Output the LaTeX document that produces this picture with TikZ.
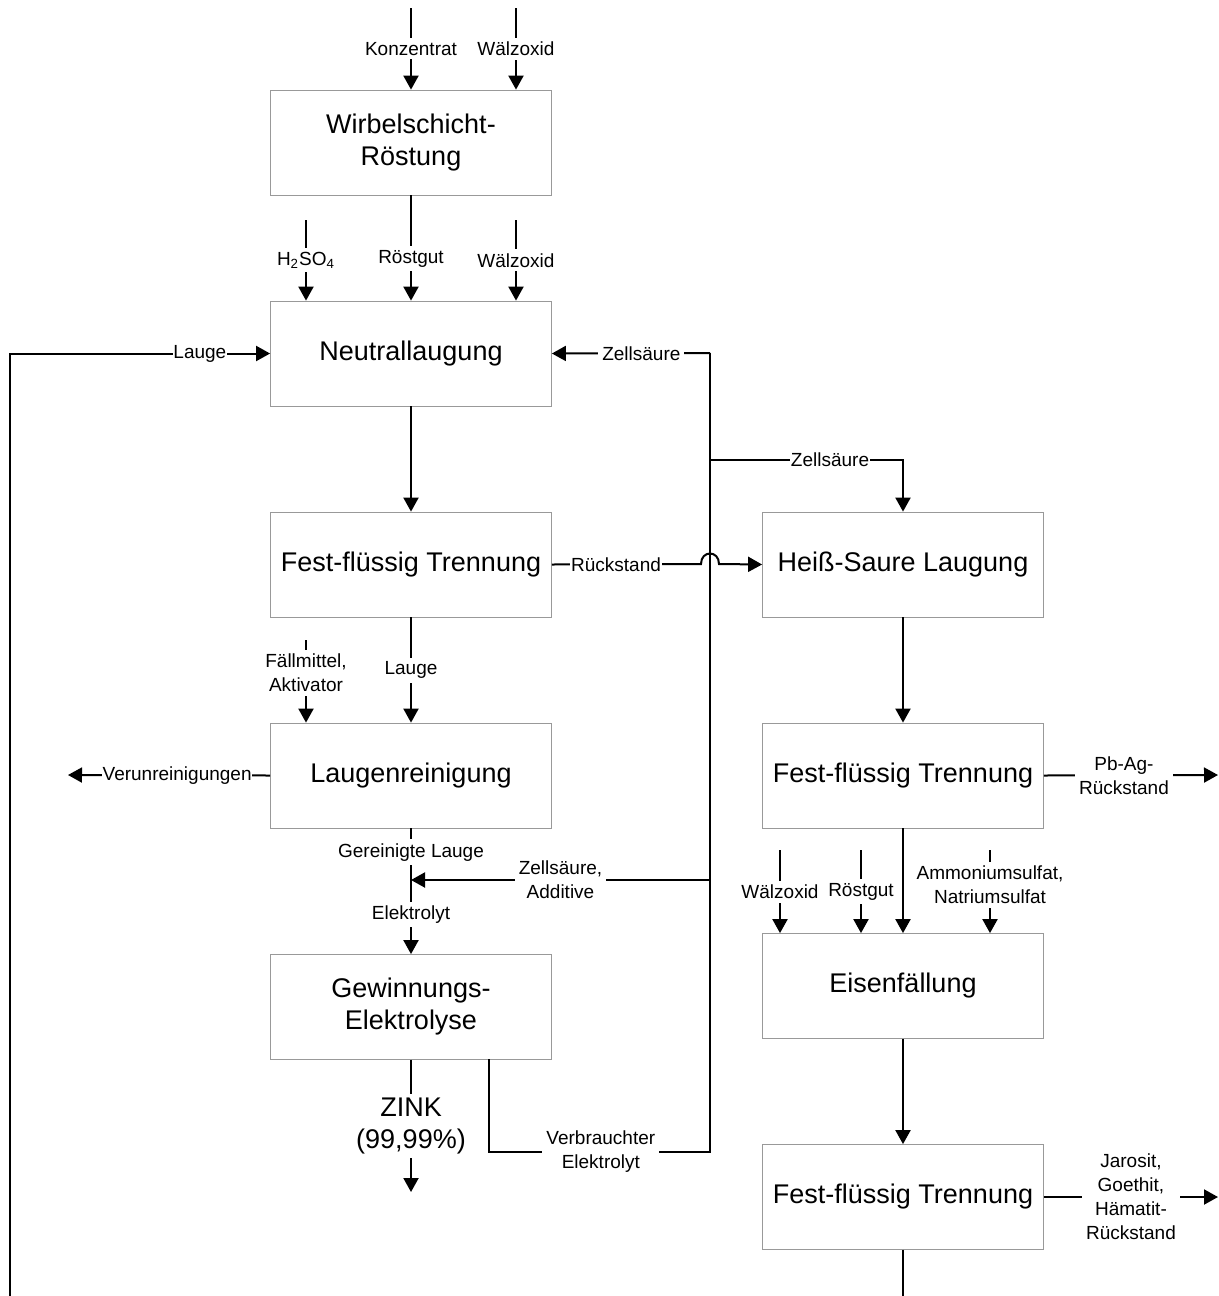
\documentclass[tikz,border=0pt]{standalone}
\usepackage{fontspec}
\setmainfont{Liberation Sans}
\usetikzlibrary{arrows.meta, positioning}

\begin{document}
\begin{tikzpicture}[x=0.5pt, y=-0.5pt,
  box/.style={draw=gray!80, fill=white, minimum width=140.5pt, minimum height=52.5pt, inner sep=2pt, align=center, font=\fontsize{13.5}{16}\selectfont},
  arrow/.style={-{Triangle[length=7pt,width=7.5pt]}, line width=1pt},
  line/.style={line width=1pt},
  lab/.style={font=\fontsize{9.5}{12}\selectfont, fill=white, inner sep=2pt, align=center},
  labt/.style={lab, inner sep=0.4pt},
  big/.style={lab, font=\fontsize{13.5}{16}\selectfont}
]
  \useasboundingbox (0,0) rectangle (1219,1296);

  % process boxes
  \node[box] (roest) at (411,142.5) {Wirbelschicht-\\Röstung};
  \node[box] (neutral) at (411,353.5) {Neutrallaugung};
  \node[box] (trenn1) at (411,564.5) {Fest-flüssig Trennung};
  \node[box] (reinig) at (411,775.5) {Laugenreinigung};
  \node[box] (elyse) at (411,1007) {Gewinnungs-\\Elektrolyse};
  \node[box] (heiss) at (903,564.5) {Heiß-Saure Laugung};
  \node[box] (trenn2) at (903,775.5) {Fest-flüssig Trennung};
  \node[box] (eisen) at (903,986) {Eisenfällung};
  \node[box] (trenn3) at (903,1197) {Fest-flüssig Trennung};

  % free ends
  \coordinate (kIn) at (411,8);
  \coordinate (w1In) at (516,8);
  \coordinate (hIn) at (306,220);
  \coordinate (w2In) at (516,220);
  \coordinate (lLoop) at (10,1296);
  \coordinate (eOut) at (489,1059);
  \coordinate (sBot) at (710,1152);
  \coordinate (sTop) at (710,353);
  \coordinate (sMid) at (710,460);
  \coordinate (sAdd) at (710,880);
  \coordinate (jAdd) at (411,880);
  \coordinate (hopL) at (701,564);
  \coordinate (hopR) at (719,564);
  \coordinate (fIn) at (306,640);
  \coordinate (vOut) at (68,775);
  \coordinate (zOut) at (411,1192);
  \coordinate (pbOut) at (1218,775);
  \coordinate (w3In) at (780,850);
  \coordinate (rIn) at (861,850);
  \coordinate (aIn) at (990,850);
  \coordinate (jOut) at (1218,1197);
  \coordinate (t3Out) at (903,1296);

  % roasting
  \draw[arrow] (kIn) -- node[lab] {Konzentrat} (roest.north);
  \draw[arrow] (w1In) -- node[lab] {Wälzoxid} (w1In |- roest.north);
  \draw[arrow] (hIn) -- node[lab] {H\textsubscript{2}SO\textsubscript{4}} (hIn |- neutral.north);
  \draw[arrow] (roest) -- node[lab, pos=0.6] {Röstgut} (neutral);
  \draw[arrow] (w2In) -- node[lab] {Wälzoxid} (w2In |- neutral.north);

  % loops
  \draw[arrow] (lLoop) |- node[labt, pos=0.865] {Lauge} (neutral.west);
  \draw[line] (eOut) |- node[lab, pos=0.753] {Verbrauchter\\Elektrolyt} (sBot) -- (sTop);
  \draw[arrow] (sTop) -- node[lab, pos=0.434] {Zellsäure} (neutral.east);
  \draw[arrow] (sMid) -| node[labt, pos=0.311] {Zellsäure} (heiss.north);
  \draw[arrow] (sAdd) -- node[lab] {Zellsäure,\\Additive} (jAdd);
  \draw[arrow] (trenn1.east) -- node[labt, pos=0.43] {Rückstand} (hopL)
    .. controls (701,550) and (719,550) .. (hopR) -- (heiss.west);

  % left column
  \draw[arrow] (neutral) -- (trenn1);
  \draw[arrow] (trenn1) -- node[lab] {Lauge} (reinig);
  \draw[arrow] (fIn) -- node[lab, pos=0.4] {Fällmittel,\\Aktivator} (fIn |- reinig.north);
  \draw[arrow] (reinig.west) -- node[labt, pos=0.46] {Verunreinigungen} (vOut);
  \draw[arrow] (reinig) -- node[lab, pos=0.19] {Gereinigte Lauge}
    node[lab, pos=0.685] {Elektrolyt} (elyse);
  \draw[arrow] (elyse) -- node[big, pos=0.5] {ZINK\\(99,99\%)} (zOut);

  % right column
  \draw[arrow] (heiss) -- (trenn2);
  \draw[arrow] (trenn2.east) -- node[lab, pos=0.46] {Pb-Ag-\\Rückstand} (pbOut);
  \draw[arrow] (trenn2) -- (eisen);
  \draw[arrow] (w3In) -- node[lab] {Wälzoxid} (w3In |- eisen.north);
  \draw[arrow] (rIn) -- node[lab] {Röstgut} (rIn |- eisen.north);
  \draw[arrow] (aIn) -- node[lab, pos=0.42] {Ammoniumsulfat,\\Natriumsulfat} (aIn |- eisen.north);
  \draw[arrow] (eisen) -- (trenn3);
  \draw[arrow] (trenn3.east) -- node[lab, pos=0.5] {Jarosit,\\Goethit,\\Hämatit-\\Rückstand} (jOut);
  \draw[line] (trenn3) -- (t3Out);
\end{tikzpicture}
\end{document}
